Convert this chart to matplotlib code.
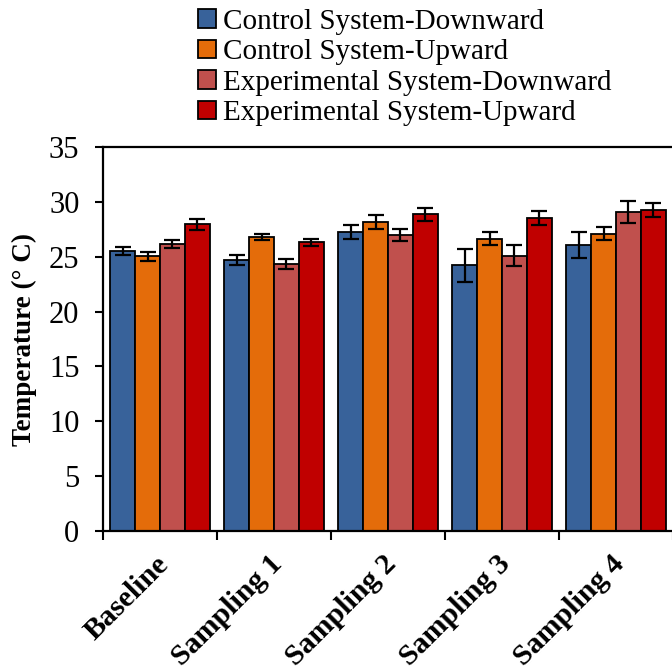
import matplotlib
matplotlib.use("Agg")
import matplotlib.pyplot as plt
import numpy as np

categories = ["Baseline", "Sampling 1", "Sampling 2", "Sampling 3", "Sampling 4"]
series_names = ["Control System-Downward", "Control System-Upward",
                "Experimental System-Downward", "Experimental System-Upward"]
ctrl_down = [25.5, 24.7, 27.25, 24.2, 26.05]
ctrl_up = [25.05, 26.8, 28.15, 26.65, 27.1]
exp_down = [26.15, 24.3, 26.95, 25.1, 29.1]
exp_up = [27.95, 26.3, 28.85, 28.5, 29.25]
ctrl_down_err = [0.38, 0.45, 0.6, 1.5, 1.2]
ctrl_up_err = [0.42, 0.3, 0.65, 0.58, 0.58]
exp_down_err = [0.4, 0.46, 0.56, 0.95, 1.02]
exp_up_err = [0.5, 0.32, 0.63, 0.65, 0.62]
y_ticks = [0, 5, 10, 15, 20, 25, 30, 35]

colors = ["#38629A", "#E46C0A", "#C0504D", "#C00000"]
values = [ctrl_down, ctrl_up, exp_down, exp_up]
errors = [ctrl_down_err, ctrl_up_err, exp_down_err, exp_up_err]

plt.rcParams['font.family'] = ['Liberation Serif', 'DejaVu Serif']

W, H = 672, 666
fig = plt.figure(figsize=(W / 100, H / 100), dpi=100)
ax = fig.add_axes([103 / W, 1 - 531 / H, 570 / W, 384 / H])

x = np.arange(len(categories))
bw = 0.218
handles = []
for i, (vals, errs, c, name) in enumerate(zip(values, errors, colors, series_names)):
    b = ax.bar(x + (i - 1.5) * bw, vals, bw, color=c, edgecolor="black",
               linewidth=1.3, label=name, zorder=2)
    ax.errorbar(x + (i - 1.5) * bw, vals, yerr=errs, fmt="none", ecolor="black",
                elinewidth=1.6, capsize=5.5, capthick=1.6, zorder=3)
    handles.append(b)

ax.set_xlim(-0.5, len(categories) - 0.5)
ax.set_ylim(0, 35)
ax.set_yticks(y_ticks)
ax.set_yticklabels([str(t) for t in y_ticks], fontsize=22)
ax.set_xticks(np.arange(len(categories) + 1) - 0.5)
ax.set_xticklabels([])
ax.tick_params(axis="y", direction="out", length=6, width=1.5, pad=11)
ax.tick_params(axis="x", direction="out", length=6.5, width=1.5)
for s in ax.spines.values():
    s.set_linewidth(1.6)

for i, cat in enumerate(categories):
    ax.annotate(cat, xy=(i, 0), xycoords=("data", "axes fraction"),
                xytext=(3, -21), textcoords="offset points",
                rotation=45, ha="right", va="center", rotation_mode="anchor",
                fontsize=21.5, fontweight="bold")

ax.set_ylabel("Temperature (° C)", fontsize=19.5, fontweight="bold")
ax.yaxis.set_label_coords(-0.115, 0.5)

fig.legend(handles, series_names, loc="upper left",
           bbox_to_anchor=(198 / W, 1 - 9 / H), frameon=False, fontsize=21,
           handlelength=0.6, handleheight=0.6, handletextpad=0.25,
           labelspacing=0.15, borderpad=0, borderaxespad=0)

fig.savefig("out.png", dpi=100)
